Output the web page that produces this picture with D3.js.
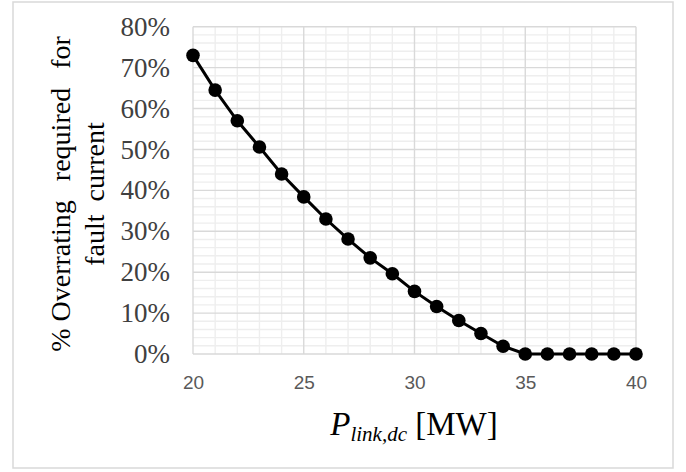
<!DOCTYPE html>
<html><head><meta charset="utf-8">
<script src="https://cdn.jsdelivr.net/npm/d3@7"></script>
<style>html,body{margin:0;padding:0;background:#fff;}svg{display:block;}</style>
</head><body>
<svg id="chart" width="686" height="472"></svg>
<script>
const xValues = [20,21,22,23,24,25,26,27,28,29,30,31,32,33,34,35,36,37,38,39,40];
const overrating = [0.73,0.645,0.57,0.506,0.44,0.384,0.33,0.281,0.235,0.196,0.153,0.116,0.082,0.05,0.019,0,0,0,0,0,0];
const xTicks = [20,25,30,35,40];
const yTicks = [0,0.1,0.2,0.3,0.4,0.5,0.6,0.7,0.8];

const svg = d3.select("#chart");
const W = 686, H = 472;
const m = {left:193, right:686-636, top:26.7, bottom:472-354};
const x = d3.scaleLinear().domain([20,40]).range([m.left, W-m.right]);
const y = d3.scaleLinear().domain([0,0.8]).range([H-m.bottom, m.top]);

// outer border
svg.append("rect").attr("x",13).attr("y",2).attr("width",660).attr("height",466)
  .attr("fill","#fff").attr("stroke","#d9d9d9").attr("stroke-width",1.5);

const g = svg.append("g");
// minor grid
const minorY = d3.range(0,0.8001,0.02).filter(v=>Math.abs(Math.round(v*10)-v*10)>1e-6);
const minorX = d3.range(20,40.001,1).filter(v=>v%5!==0);
g.selectAll(".mny").data(minorY).join("line")
  .attr("x1",x(20)).attr("x2",x(40)).attr("y1",d=>y(d)).attr("y2",d=>y(d))
  .attr("stroke","#eeeeee").attr("stroke-width",1.4);
g.selectAll(".mnx").data(minorX).join("line")
  .attr("y1",y(0)).attr("y2",y(0.8)).attr("x1",d=>x(d)).attr("x2",d=>x(d))
  .attr("stroke","#eeeeee").attr("stroke-width",1.4);
// major grid
g.selectAll(".mjy").data(yTicks).join("line")
  .attr("x1",x(20)).attr("x2",x(40)).attr("y1",d=>y(d)).attr("y2",d=>y(d))
  .attr("stroke","#d9d9d9").attr("stroke-width",1.4);
g.selectAll(".mjx").data(xTicks).join("line")
  .attr("y1",y(0)).attr("y2",y(0.8)).attr("x1",d=>x(d)).attr("x2",d=>x(d))
  .attr("stroke","#d9d9d9").attr("stroke-width",1.4);

// axes labels via d3 axes
const yAxis = d3.axisLeft(y).tickValues(yTicks).tickFormat(d3.format(".0%")).tickSize(0).tickPadding(23);
const ya = svg.append("g").attr("transform",`translate(${m.left},0)`).call(yAxis);
ya.select(".domain").remove();
ya.selectAll("text").attr("font-family","'Liberation Serif', 'Times New Roman', serif")
  .attr("font-size",27).attr("fill","#404040");

const xAxis = d3.axisBottom(x).tickValues(xTicks).tickSize(0).tickPadding(22);
const xa = svg.append("g").attr("transform",`translate(0,${y(0)})`).call(xAxis);
xa.select(".domain").remove();
xa.selectAll("text").attr("font-family","'Liberation Sans', Arial, sans-serif")
  .attr("font-size",19).attr("fill","#595959");

// line and points
const pts = xValues.map((v,i)=>({x:v,y:overrating[i]}));
svg.append("path").datum(pts)
  .attr("d",d3.line().x(d=>x(d.x)).y(d=>y(d.y)))
  .attr("fill","none").attr("stroke","#000").attr("stroke-width",3);
svg.selectAll(".pt").data(pts).join("circle")
  .attr("cx",d=>x(d.x)).attr("cy",d=>y(d.y)).attr("r",6.8).attr("fill","#000");

// y title
const yt = svg.append("text").attr("transform","translate(0,194) rotate(-90)")
  .attr("font-family","'Liberation Serif', 'Times New Roman', serif").attr("font-size",28)
  .attr("text-anchor","middle").attr("fill","#000");
yt.append("tspan").attr("x",0).attr("y",70).text("% ");
yt.append("tspan").attr("word-spacing",12).text("Overrating required for");
yt.append("tspan").attr("x",0).attr("y",104).attr("word-spacing",6).text("fault current");

// x title
const xt = svg.append("text").attr("x",414).attr("y",435)
  .attr("font-family","'Liberation Serif', 'Times New Roman', serif").attr("font-size",33)
  .attr("text-anchor","middle").attr("fill","#000");
xt.append("tspan").attr("font-style","italic").text("P");
xt.append("tspan").attr("font-style","italic").attr("font-size",21).attr("dy",6).text("link,dc");
xt.append("tspan").attr("dy",-6).text(" [MW]");
</script>
</body></html>
